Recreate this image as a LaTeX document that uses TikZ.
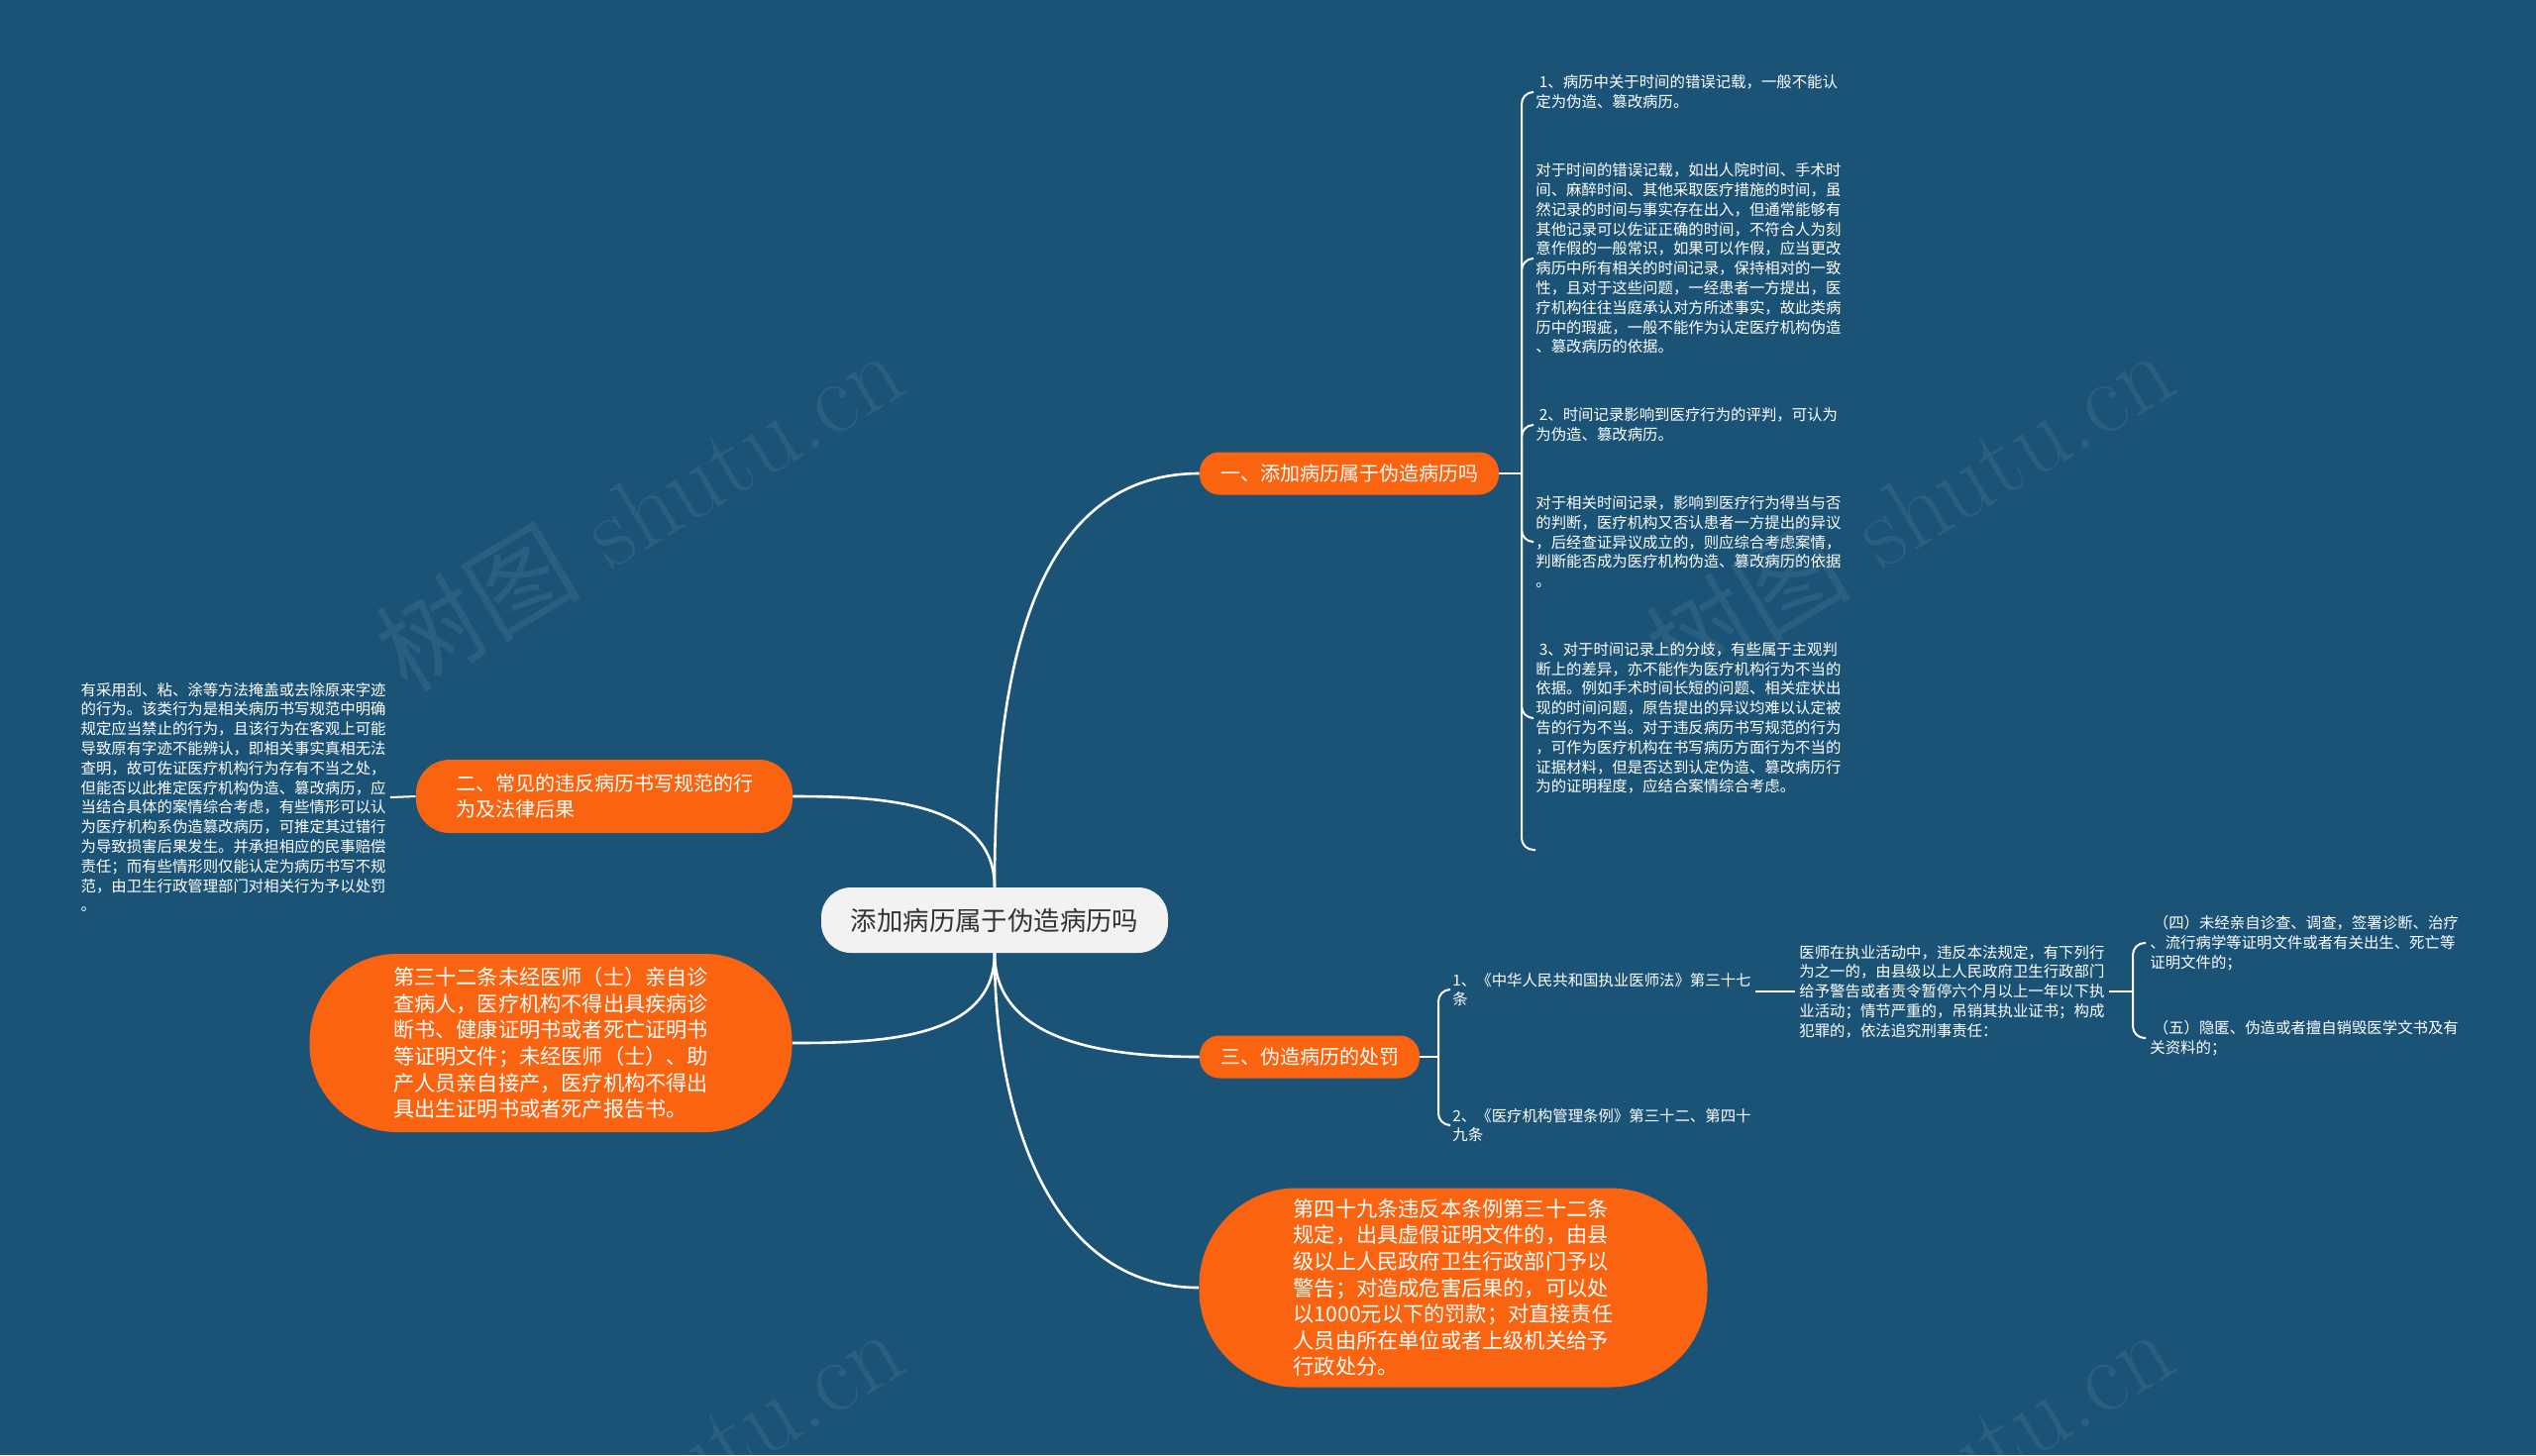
\documentclass[tikz,border=0pt]{standalone}
\usepackage{fontspec}
\newfontfamily\cjk{Noto Sans CJK SC}
\usetikzlibrary{positioning}
\definecolor{bgblue}{HTML}{1A5376}
\definecolor{leaforange}{HTML}{FA6410}
\definecolor{rootgray}{HTML}{F2F2F2}
\definecolor{rootink}{HTML}{333333}

\begin{document}
\begin{tikzpicture}[x=0.5pt, y=-0.5pt,
  every node/.style={font=\cjk, inner sep=2pt},
  rootbox/.style={fill=rootgray, text=rootink, rounded corners=15pt, minimum width=175pt, minimum height=33pt, font=\cjk\fontsize{13.2}{16}\selectfont},
  branch/.style={fill=leaforange, text=white, rounded corners=10pt, minimum height=21.5pt, align=left, font=\cjk\fontsize{10}{13}\selectfont},
  bigleaf/.style={fill=leaforange, text=white, align=left, font=\cjk\fontsize{10.6}{13.3}\selectfont},
  note/.style={text=white, align=left, anchor=west, font=\cjk\fontsize{7.7}{9.9}\selectfont},
  wmark/.style={text=white, opacity=0.07, rotate=31, font=\fontsize{52}{60}\selectfont},
  mainline/.style={white, line width=1.3pt},
  twig/.style={white, line width=1pt, rounded corners=6pt}]
\useasboundingbox (0,0) rectangle (2560,1469);
\fill[bgblue] (0,0) rectangle (2560,1469);

\node[wmark] (wm1) at (645,514) {{\cjk 树图} shutu.cn};
\node[wmark] (wm2) at (1927,514) {{\cjk 树图} shutu.cn};
\node[wmark] (wm3) at (645,1502) {{\cjk 树图} shutu.cn};
\node[wmark] (wm4) at (1927,1502) {{\cjk 树图} shutu.cn};

\node[rootbox] (root) at (1004,929) {添加病历属于伪造病历吗};
\node[branch, minimum width=151pt] (b1) at (1362,478) {一、添加病历属于伪造病历吗};
\node[branch, minimum width=190pt, minimum height=37pt, rounded corners=17pt] (b2) at (610,804) {二、常见的违反病历书写规范的行\\为及法律后果};
\node[branch, minimum width=111pt] (b3) at (1322,1067) {三、伪造病历的处罚};
\node[bigleaf, minimum width=243.5pt, minimum height=90pt, rounded corners=44pt] (b4) at (556,1053) {第三十二条未经医师（士）亲自诊\\查病人，医疗机构不得出具疾病诊\\断书、健康证明书或者死亡证明书\\等证明文件；未经医师（士）、助\\产人员亲自接产，医疗机构不得出\\具出生证明书或者死产报告书。};
\node[bigleaf, minimum width=256.5pt, minimum height=100.5pt, rounded corners=49pt] (b5) at (1467,1300) {第四十九条违反本条例第三十二条\\规定，出具虚假证明文件的，由县\\级以上人民政府卫生行政部门予以\\警告；对造成危害后果的，可以处\\以1000元以下的罚款；对直接责任\\人员由所在单位或者上级机关给予\\行政处分。};

\node[note] (c1) at (1546,93) {\ 1、病历中关于时间的错误记载，一般不能认\\定为伪造、篡改病历。};
\node[note] (c2) at (1546,261) {对于时间的错误记载，如出人院时间、手术时\\间、麻醉时间、其他采取医疗措施的时间，虽\\然记录的时间与事实存在出入，但通常能够有\\其他记录可以佐证正确的时间，不符合人为刻\\意作假的一般常识，如果可以作假，应当更改\\病历中所有相关的时间记录，保持相对的一致\\性，且对于这些问题，一经患者一方提出，医\\疗机构往往当庭承认对方所述事实，故此类病\\历中的瑕疵，一般不能作为认定医疗机构伪造\\、篡改病历的依据。};
\node[note] (c3) at (1546,429) {\ 2、时间记录影响到医疗行为的评判，可认为\\为伪造、篡改病历。};
\node[note] (c4) at (1546,547) {对于相关时间记录，影响到医疗行为得当与否\\的判断，医疗机构又否认患者一方提出的异议\\，后经查证异议成立的，则应综合考虑案情，\\判断能否成为医疗机构伪造、篡改病历的依据\\。};
\node[note] (c5) at (1546,725) {\ 3、对于时间记录上的分歧，有些属于主观判\\断上的差异，亦不能作为医疗机构行为不当的\\依据。例如手术时间长短的问题、相关症状出\\现的时间问题，原告提出的异议均难以认定被\\告的行为不当。对于违反病历书写规范的行为\\，可作为医疗机构在书写病历方面行为不当的\\证据材料，但是否达到认定伪造、篡改病历行\\为的证明程度，应结合案情综合考虑。};
\coordinate (hubA) at (1536,478);
\coordinate (tailA) at (1550,858);

\node[note, anchor=east] (a1) at (394,805) {有采用刮、粘、涂等方法掩盖或去除原来字迹\\的行为。该类行为是相关病历书写规范中明确\\规定应当禁止的行为，且该行为在客观上可能\\导致原有字迹不能辨认，即相关事实真相无法\\查明，故可佐证医疗机构行为存有不当之处，\\但能否以此推定医疗机构伪造、篡改病历，应\\当结合具体的案情综合考虑，有些情形可以认\\为医疗机构系伪造篡改病历，可推定其过错行\\为导致损害后果发生。并承担相应的民事赔偿\\责任；而有些情形则仅能认定为病历书写不规\\范，由卫生行政管理部门对相关行为予以处罚\\。};

\node[note] (d1) at (1462,999) {1、《中华人民共和国执业医师法》第三十七\\条};
\node[note] (d2) at (1462,1136) {2、《医疗机构管理条例》第三十二、第四十\\九条};
\coordinate (hubB) at (1452,1067);
\node[note] (e1) at (1812,1001) {医师在执业活动中，违反本法规定，有下列行\\为之一的，由县级以上人民政府卫生行政部门\\给予警告或者责令暂停六个月以上一年以下执\\业活动；情节严重的，吊销其执业证书；构成\\犯罪的，依法追究刑事责任：};
\coordinate (hubC) at (2153,1001);
\node[note] (f1) at (2166,952) {\ （四）未经亲自诊查、调查，签署诊断、治疗\\、流行病学等证明文件或者有关出生、死亡等\\证明文件的；};
\node[note] (f2) at (2166,1048) {\ （五）隐匿、伪造或者擅自销毁医学文书及有\\关资料的；};

\draw[mainline] (root.north) to[out=90, in=180] (b1.west);
\draw[mainline] (root.north) to[out=90, in=0] (b2.east);
\draw[mainline] (root.south) to[out=-90, in=0] (b4.east);
\draw[mainline] (root.south) to[out=-90, in=180] (b3.west);
\draw[mainline] (root.south) to[out=-90, in=180] (b5.west);

\draw[twig] (b1.east) -- (hubA);
\draw[twig] (hubA) |- (c1.west);
\draw[twig] (hubA) |- (c2.west);
\draw[twig] (hubA) |- (c3.west);
\draw[twig] (hubA) |- (c4.west);
\draw[twig] (hubA) |- (c5.west);
\draw[twig] (hubA) |- (tailA);

\draw[twig] (b2.west) -- (a1.east);

\draw[twig] (b3.east) -- (hubB);
\draw[twig] (hubB) |- (d1.west);
\draw[twig] (hubB) |- (d2.west);
\draw[twig] (d1.east |- e1.west) -- (e1.west);
\draw[twig] (e1.east) -- (hubC);
\draw[twig] (hubC) |- (f1.west);
\draw[twig] (hubC) |- (f2.west);
\end{tikzpicture}
\end{document}
